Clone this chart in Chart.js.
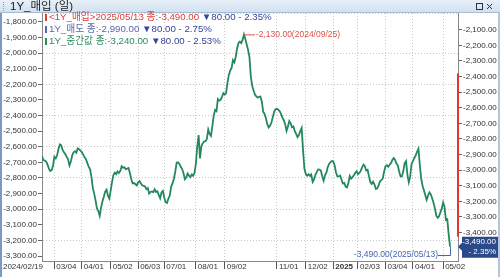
<!DOCTYPE html>
<html>
<head>
<meta charset="utf-8">
<script src="https://cdn.jsdelivr.net/npm/chart.js@4.4.1/dist/chart.umd.min.js"></script>
<style>
    html, body { margin: 0; padding: 0; background: #fff; }
    #wrap { width: 500px; height: 277px; }
</style>
</head>
<body>
<div id="wrap"><canvas id="chart-buy" width="500" height="277"></canvas></div>
<script>
// 1Y_매입 daily close, one value per trading day (2024/02/19 .. 2025/05/13)
const buyValues = [
    -2910, -2935, -2938, -2945, -2963, -2990, -3005, -3000, -2973, -2915,
    -2925, -2905, -2865, -2835, -2841, -2870, -2885, -2898, -2915, -2932,
    -2970, -2945, -2905, -2885, -2878, -2888, -2860, -2866, -2875, -2884,
    -2900, -2918, -2930, -2955, -2978, -2995, -3045, -3115, -3150, -3195,
    -3245, -3262, -3293, -3240, -3200, -3170, -3137, -3125, -3163, -3182,
    -3130, -3075, -3032, -3016, -3026, -3008, -3018, -3005, -2975, -2984,
    -2982, -2993, -2990, -2986, -3020, -3058, -3085, -3082, -3090, -3098,
    -3078, -3070, -3085, -3098, -3101, -3105, -3122, -3115, -3150, -3140,
    -3136, -3141, -3123, -3140, -3135, -3160, -3180, -3143, -3133, -3175,
    -3205, -3210, -3182, -3163, -3105, -3085, -3055, -3010, -2952, -2950,
    -2960, -2978, -2993, -3020, -3058, -3048, -3022, -3035, -3045, -3028,
    -3036, -3018, -2960, -2850, -2775, -2925, -2846, -2828, -2816, -2814,
    -2800, -2740, -2768, -2780, -2720, -2650, -2614, -2622, -2545, -2555,
    -2550, -2530, -2507, -2516, -2506, -2440, -2390, -2362, -2345, -2295,
    -2310, -2275, -2220, -2185, -2176, -2186, -2165, -2130, -2160, -2195,
    -2229, -2275, -2400, -2460, -2490, -2516, -2527, -2535, -2530, -2528,
    -2560, -2625, -2640, -2668, -2705, -2726, -2715, -2695, -2660, -2625,
    -2610, -2607, -2613, -2622, -2640, -2663, -2680, -2705, -2748, -2720,
    -2685, -2700, -2725, -2720, -2750, -2768, -2788, -2775, -2750, -2730,
    -2870, -2990, -3025, -3035, -3027, -3037, -3027, -3075, -3060, -3030,
    -3012, -2995, -2996, -3002, -3040, -3068, -3033, -3016, -2980, -2960,
    -2948, -2942, -2945, -2970, -3015, -3040, -3040, -3035, -3060, -3086,
    -3082, -3105, -3110, -3082, -3037, -3055, -3045, -3032, -3018, -3007,
    -3025, -3018, -3005, -2982, -2965, -2975, -3002, -2998, -3040, -3076,
    -3088, -3074, -3092, -3120, -3118, -3098, -3073, -3063, -3054, -3010,
    -2975, -2968, -2978, -2965, -2955, -2935, -2922, -2934, -2958, -2970,
    -3010, -3040, -3040, -3005, -2955, -2942, -3030, -3078, -3040, -2960,
    -2942, -2922, -2905, -2882, -2863, -2965, -3055, -3100, -3128, -3160,
    -3190, -3162, -3142, -3155, -3180, -3210, -3245, -3292, -3305, -3295,
    -3270, -3245, -3207, -3235, -3318, -3315, -3410, -3490
];

// x axis: trading-day index of each labelled date
const xTickIdx = [9, 29, 50, 70, 89, 112, 133, 171, 192, 212, 230, 250, 270, 292];
const xTickLabels = ['03/04', '04/01', '05/02', '06/03', '07/01', '08/01', '09/02',
    '11/01', '12/02', '2025', '02/03', '03/04', '04/01', '05/02'];
const firstDateLabel = '2024/02/19';
const peakDateLabel = '2024/09/25';
const lastDateLabel = '2025/05/13';

// left axis = 중간값 scale, right axis = 매입 scale (offset 250)
const leftTicks = [-1800, -1900, -2000, -2100, -2200, -2300, -2400, -2500,
    -2600, -2700, -2800, -2900, -3000, -3100, -3200, -3300];
const rightTicks = [-2100, -2200, -2300, -2400, -2500, -2600, -2700,
    -2800, -2900, -3000, -3100, -3200, -3300, -3400];
const gridTicks = [-2000, -2200, -2400, -2600, -2800, -3000, -3200];

// legend rows
const seriesNames = ['<1Y_매입>' + lastDateLabel, '1Y_매도', '1Y_중간값'];
const seriesClose = [-3490, -2990, -3240];
const seriesChange = [-80, -80, -80];
const seriesChangePct = [-2.35, -2.75, -2.53];

const RIGHT_MIN = -3582;
const RIGHT_MAX = -1993;
const OFFSET = 250;

const LINE_GREEN = '#23895c';
const RED = '#e0504a';
const BLUE = '#4565ad';
const NAVY = '#2b4a8b';
const FONT = '"Liberation Sans", "Noto Sans CJK KR", sans-serif';
const rowColors = ['#d9403c', '#5867b0', '#2b8a5e'];

Chart.defaults.font.family = FONT;
Chart.defaults.font.size = 8;
Chart.defaults.color = '#333';

function fmt(v) {
    return v.toLocaleString('en-US', { minimumFractionDigits: 2, maximumFractionDigits: 2 });
}

const framePlugin = {
    id: 'frame',
    beforeDraw(chart) {
        const { ctx, width, chartArea: area } = chart;
        ctx.save();
        ctx.fillStyle = '#fff';
        ctx.fillRect(0, 0, width, chart.height);

        // title bar
        const g = ctx.createLinearGradient(0, 0, 0, 12);
        g.addColorStop(0, '#e8f0f9');
        g.addColorStop(1, '#d2e1f0');
        ctx.fillStyle = g;
        ctx.fillRect(0, 0, width, 12);
        ctx.fillStyle = '#a8bcd4';
        ctx.fillRect(0, 12, width, 1);

        ctx.fillStyle = '#8a9bb0';
        for (let y = 2; y < 11; y += 2) ctx.fillRect(3, y, 1, 1);

        ctx.fillStyle = '#222';
        ctx.font = '11.5px ' + FONT;
        ctx.textBaseline = 'middle';
        ctx.fillText('1Y_매입 (일)', 10, 6.5);

        ctx.strokeStyle = '#333';
        ctx.lineWidth = 1;
        ctx.strokeRect(476.5, 3.5, 6, 6);
        ctx.beginPath();
        ctx.moveTo(487, 4); ctx.lineTo(492, 9);
        ctx.moveTo(492, 4); ctx.lineTo(487, 9);
        ctx.stroke();

        // window side borders
        ctx.fillStyle = '#7b98c6';
        ctx.fillRect(0, 13, 2, chart.height - 13);
        ctx.fillStyle = '#b4c6dc';
        ctx.fillRect(498, 13, 2, chart.height - 13);

        // top dotted border of plot
        ctx.strokeStyle = '#c8c8c8';
        ctx.setLineDash([1, 2]);
        ctx.beginPath();
        ctx.moveTo(area.left, area.top + 0.5);
        ctx.lineTo(area.right, area.top + 0.5);
        ctx.stroke();
        ctx.restore();
    }
};

const overlayPlugin = {
    id: 'overlay',
    afterDatasetsDraw(chart) {
        const { ctx, chartArea: area, scales } = chart;
        const xs = scales.x;
        const ys = scales.yBuy;
        ctx.save();
        ctx.textBaseline = 'middle';

        // legend
        ctx.font = '9.7px ' + FONT;
        seriesNames.forEach((name, i) => {
            const y = area.top + 4 + i * 12;
            const x0 = area.left + 3;
            ctx.fillStyle = rowColors[i];
            ctx.fillRect(x0, y - 3, 2, 7);
            const head = name + ' 종:' + fmt(seriesClose[i]) + ' ';
            ctx.fillText(head, x0 + 4, y);
            const w = ctx.measureText(head).width;
            ctx.fillStyle = '#33469a';
            ctx.fillText('▼' + fmt(Math.abs(seriesChange[i])) + ' - ' +
                Math.abs(seriesChangePct[i]).toFixed(2) + '%', x0 + 4 + w, y);
        });

        ctx.font = '8.5px ' + FONT;

        // peak marker
        const peakVal = Math.max(...buyValues);
        const peakIdx = buyValues.indexOf(peakVal);
        const px = xs.getPixelForValue(peakIdx);
        const py = ys.getPixelForValue(peakVal);
        ctx.strokeStyle = RED;
        ctx.lineWidth = 1;
        ctx.beginPath();
        ctx.moveTo(px, py + 0.5);
        ctx.lineTo(px + 11, py + 0.5);
        ctx.stroke();
        ctx.fillStyle = RED;
        ctx.fillText(fmt(peakVal) + '(' + peakDateLabel + ')', px + 12, py);

        // last value marker
        const lastIdx = buyValues.length - 1;
        const lastVal = buyValues[lastIdx];
        const lx = xs.getPixelForValue(lastIdx);
        const ly = ys.getPixelForValue(lastVal);
        const labelY = area.bottom - 6;
        ctx.strokeStyle = BLUE;
        ctx.beginPath();
        ctx.moveTo(lx - 12, labelY + 0.5);
        ctx.lineTo(lx + 0.5, labelY + 0.5);
        ctx.lineTo(lx + 0.5, ly);
        ctx.stroke();
        ctx.fillStyle = BLUE;
        ctx.textAlign = 'right';
        ctx.fillText(fmt(lastVal) + '(' + lastDateLabel + ')', lx - 12, labelY);

        // red range bar on right axis
        const boxTop = ly - 10;
        ctx.fillStyle = '#e03a30';
        const rTop = ys.getPixelForValue(-2380);
        ctx.fillRect(area.right - 1, rTop, 2, boxTop - rTop);

        // current value box
        ctx.fillStyle = NAVY;
        ctx.beginPath();
        ctx.moveTo(area.right + 4, boxTop);
        ctx.lineTo(498, boxTop);
        ctx.lineTo(498, boxTop + 21);
        ctx.lineTo(area.right + 4, boxTop + 21);
        ctx.lineTo(area.right + 4, ly + 4);
        ctx.lineTo(area.right, ly);
        ctx.lineTo(area.right + 4, ly - 4);
        ctx.closePath();
        ctx.fill();
        ctx.font = '8px ' + FONT;
        ctx.fillStyle = '#fff';
        ctx.textAlign = 'right';
        ctx.fillText(fmt(lastVal), 496, boxTop + 5.5);
        ctx.fillText('- ' + Math.abs(seriesChangePct[0]).toFixed(2) + '%', 496, boxTop + 15.5);

        // first date label sits left of the plot
        ctx.fillStyle = '#333';
        ctx.textAlign = 'right';
        ctx.fillText(firstDateLabel, area.left + 1, area.bottom + 6);
        ctx.restore();
    }
};

new Chart(document.querySelector('#chart-buy'), {
    type: 'line',
    data: {
        labels: buyValues.map((v, i) => i),
        datasets: [{
            data: buyValues,
            yAxisID: 'yBuy',
            borderColor: LINE_GREEN,
            borderWidth: 1.8,
            pointRadius: 0,
            tension: 0
        }]
    },
    options: {
        responsive: false,
        animation: false,
        layout: { padding: { top: 13, left: 0, right: 0, bottom: 0 } },
        plugins: {
            legend: { display: false },
            tooltip: { enabled: false }
        },
        scales: {
            x: {
                type: 'linear',
                min: 0,
                max: 302.8,
                afterBuildTicks: (s) => { s.ticks = xTickIdx.map(v => ({ value: v })); },
                afterFit: (s) => { s.height = 16; },
                ticks: {
                    autoSkip: false,
                    maxRotation: 0,
                    align: 'start',
                    labelOffset: 2,
                    padding: -7,
                    callback: (v, i) => xTickLabels[i],
                    font: (ctx) => ({ weight: ctx.tick && ctx.tick.label === '2025' ? 'bold' : 'normal' })
                },
                grid: { color: '#c8c8c8', tickLength: 8, tickColor: '#555' },
                border: { color: '#888', dash: [1, 2] }
            },
            yMid: {
                position: 'left',
                min: RIGHT_MIN + OFFSET,
                max: RIGHT_MAX + OFFSET,
                afterBuildTicks: (s) => { s.ticks = leftTicks.map(v => ({ value: v })); },
                afterFit: (s) => { s.width = 42; },
                ticks: { padding: 1, callback: (v) => fmt(v) },
                grid: {
                    color: (ctx) => ctx.tick && gridTicks.includes(ctx.tick.value) ? '#c8c8c8' : 'rgba(0,0,0,0)',
                    tickLength: 4,
                    tickColor: '#666'
                },
                border: { color: '#888', dash: [1, 2] }
            },
            yBuy: {
                position: 'right',
                min: RIGHT_MIN,
                max: RIGHT_MAX,
                afterBuildTicks: (s) => { s.ticks = rightTicks.map(v => ({ value: v })); },
                afterFit: (s) => { s.width = 42; },
                ticks: { padding: 1, callback: (v) => fmt(v) },
                grid: { drawOnChartArea: false, tickLength: 4, tickColor: '#666' },
                border: { color: '#888' }
            }
        }
    },
    plugins: [framePlugin, overlayPlugin]
});
</script>
</body>
</html>
